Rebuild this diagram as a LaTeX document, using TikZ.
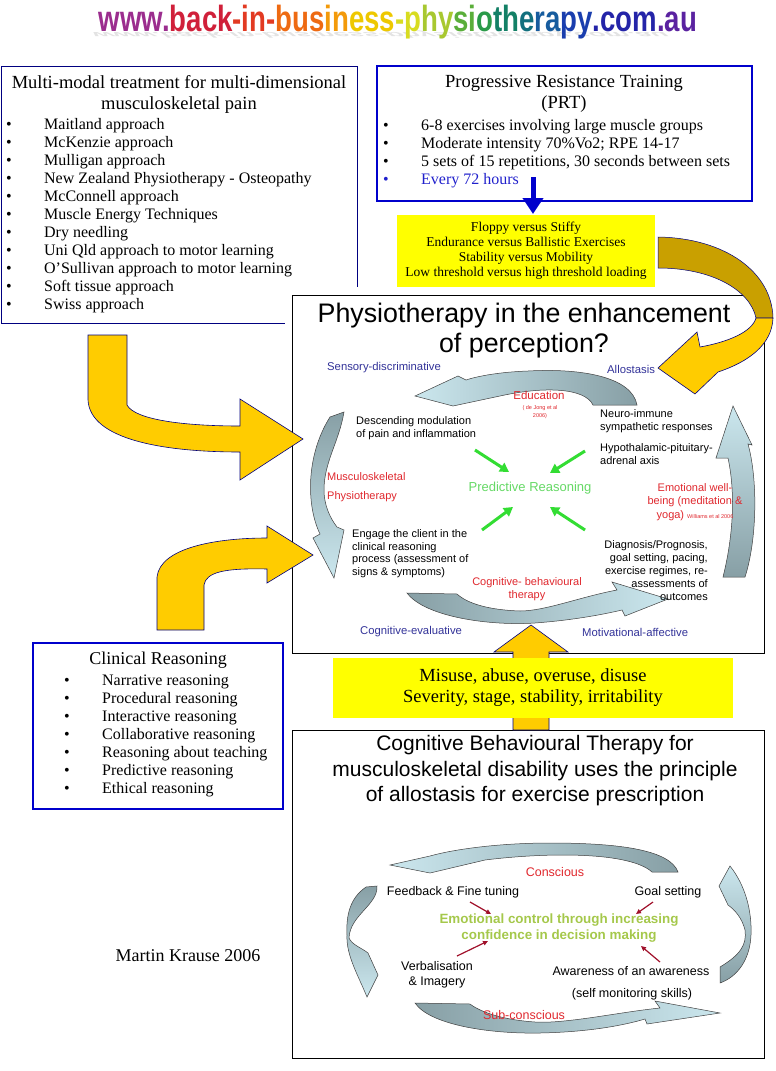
\documentclass[tikz,border=0pt]{standalone}
\usepackage{fontspec}
\setmainfont{Liberation Serif}
\setsansfont{Liberation Sans}
\usepackage{tikz}
\usetikzlibrary{arrows.meta}
\pgfdeclarelayer{edgelayer}
\pgfdeclarelayer{nodelayer}
\pgfsetlayers{edgelayer,nodelayer,main}
\definecolor{navy}{HTML}{000080}
\definecolor{boxblue}{HTML}{0000CC}
\definecolor{boxyellow}{HTML}{FFFF00}
\definecolor{arrowyellow}{HTML}{FFCC00}
\definecolor{golddark}{HTML}{C9A000}
\definecolor{cyclight}{HTML}{CBE7EE}
\definecolor{cycdark}{HTML}{879FA5}
\definecolor{labelblue}{HTML}{333399}
\definecolor{physred}{HTML}{E0282E}
\definecolor{predgreen}{HTML}{66D966}
\definecolor{emogreen}{HTML}{A5C84B}
\definecolor{pointergreen}{HTML}{33DD33}
\definecolor{tickred}{HTML}{A0102A}
\definecolor{itemblue}{HTML}{2020CC}
\tikzstyle{none}=[inner sep=0pt]
\tikzstyle{listitem}=[style=none, anchor=west, font=\fontsize{16}{18}\selectfont, text height=11pt, text depth=3pt]
\tikzstyle{heading}=[style=none, align=center, font=\fontsize{18.5}{21}\selectfont]
\tikzstyle{sans}=[style=none, font=\sffamily\fontsize{11}{12.5}\selectfont]
\tikzstyle{cbt text}=[style=none, align=center, font=\sffamily\fontsize{12.5}{15}\selectfont]
\tikzstyle{axis label}=[style=none, anchor=west, text=labelblue, font=\sffamily\fontsize{11.3}{12}\selectfont]
\tikzstyle{cycle arrow}=[draw=black!75, line width=0.5pt]
\tikzstyle{block arrow}=[draw=navy, line width=0.6pt, fill=arrowyellow]
\tikzstyle{greenpointer}=[draw=pointergreen, line width=3pt, -{Triangle[width=10pt,length=9pt]}]
\tikzstyle{redtick}=[draw=tickred, line width=1.2pt, -{Triangle[width=4.5pt,length=5pt]}]
\newcommand{\itemdot}{\makebox[38pt][l]{\textbullet}}

\begin{document}
\begin{tikzpicture}[x=1pt, y=-1pt]
	\useasboundingbox (0,0) rectangle (776,1071);
	\begin{pgfonlayer}{nodelayer}
		\node [style=none, text=gray!22, font=\sffamily\bfseries\fontsize{28}{30}\selectfont, xscale=0.95, yscale=-0.28, xslant=0.4] (0) at (380,35) {www.back-in-business-physiotherapy.com.au};
		\node [style=none, font=\sffamily\bfseries\fontsize{28}{30}\selectfont, xscale=0.985, yscale=1.3] (1) at (398,22) {{\color[HTML]{9B2D8E}www.}{\color[HTML]{D0203A}back}{\color[HTML]{E23A22}-in-}{\color[HTML]{EE6A12}bus}{\color[HTML]{F39A0A}in}{\color[HTML]{EEC800}ess}{\color[HTML]{D8DC20}-p}{\color[HTML]{A8C830}hy}{\color[HTML]{5AAE3A}si}{\color[HTML]{2A9A48}o}{\color[HTML]{138066}th}{\color[HTML]{12707E}e}{\color[HTML]{175C9E}ra}{\color[HTML]{1A3EAE}py}{\color[HTML]{2424A8}.com}{\color[HTML]{5A22A0}.au}};
		\node [style=heading] (2) at (179,94) {Multi-modal treatment for multi-dimensional\\musculoskeletal pain};
		\node [style=listitem] (3) at (6, 125) {\itemdot Maitland approach};
		\node [style=listitem] (4) at (6, 143) {\itemdot McKenzie approach};
		\node [style=listitem] (5) at (6, 161) {\itemdot Mulligan approach};
		\node [style=listitem] (6) at (6, 179) {\itemdot New Zealand Physiotherapy - Osteopathy};
		\node [style=listitem] (7) at (6, 197) {\itemdot McConnell approach};
		\node [style=listitem] (8) at (6, 215) {\itemdot Muscle Energy Techniques};
		\node [style=listitem] (9) at (6, 233) {\itemdot Dry needling};
		\node [style=listitem] (10) at (6, 251) {\itemdot Uni Qld approach to motor learning};
		\node [style=listitem] (11) at (6, 269) {\itemdot O’Sullivan approach to motor learning};
		\node [style=listitem] (12) at (6, 287) {\itemdot Soft tissue approach};
		\node [style=listitem] (13) at (6, 305) {\itemdot Swiss approach};
		\node [style=heading] (14) at (564,94) {Progressive Resistance Training\\(PRT)};
		\node [style=listitem] (15) at (383, 126) {\itemdot 6-8 exercises involving large muscle groups};
		\node [style=listitem] (16) at (383, 144) {\itemdot Moderate intensity 70\%Vo2; RPE 14-17};
		\node [style=listitem] (17) at (383, 162) {\itemdot 5 sets of 15 repetitions, 30 seconds between sets};
		\node [style=listitem, text=itemblue] (18) at (383, 180) {\itemdot Every 72 hours};
		\node [style=none] (19) at (533, 177) {};
		\node [style=none] (20) at (533, 214) {};
		\node [style=none, fill=boxyellow, minimum width=258pt, minimum height=72pt, align=center, font=\fontsize{13.5}{15}\selectfont] (21) at (526, 251) {Floppy versus Stiffy\\Endurance versus Ballistic Exercises\\Stability versus Mobility\\Low threshold versus high threshold loading};
		\node [style=none, align=center, font=\sffamily\fontsize{26.8}{30}\selectfont] (22) at (524, 331) {Physiotherapy in the enhancement\\of perception?};
		\node [style=axis label] (23) at (327, 368) {Sensory-discriminative};
		\node [style=axis label] (24) at (607, 369) {Allostasis};
		\node [style=sans, text=physred, font=\sffamily\fontsize{11.5}{13}\selectfont] (25) at (539, 395) {Education};
		\node [style=sans, text=physred, align=center, font=\sffamily\fontsize{5.5}{8}\selectfont] (26) at (540, 412) {( de Jong et al\\2006)};
		\node [style=sans, anchor=west, align=left] (27) at (356, 428) {Descending modulation\\of pain and inflammation};
		\node [style=sans, anchor=west, align=left, font=\sffamily\fontsize{11}{13}\selectfont] (28) at (600, 421.5) {Neuro-immune\\sympathetic responses};
		\node [style=sans, anchor=west, align=left] (29) at (600, 454) {Hypothalamic-pituitary-\\adrenal axis};
		\node [style=sans, anchor=west, align=left, text=physred, font=\sffamily\fontsize{11}{19}\selectfont] (30) at (327, 487.5) {Musculoskeletal\\Physiotherapy};
		\node [style=none, text=predgreen, font=\sffamily\fontsize{13}{14}\selectfont] (31) at (530, 488) {Predictive Reasoning};
		\node [style=sans, align=center, text=physred, font=\sffamily\fontsize{11}{13.5}\selectfont] (32) at (695, 502) {Emotional well-\\being (meditation \&\\yoga) {\fontsize{5.5}{6}\selectfont Williams et al 2006}};
		\node [style=sans, anchor=west, align=left] (33) at (352, 553.5) {Engage the client in the\\clinical reasoning\\process (assessment of\\signs \& symptoms)};
		\node [style=sans, anchor=east, align=right, font=\sffamily\fontsize{11}{13}\selectfont] (34) at (708, 571) {Diagnosis/Prognosis,\\goal setting, pacing,\\exercise regimes, re-\\assessments of\\outcomes};
		\node [style=sans, align=center, text=physred, font=\sffamily\fontsize{11}{13}\selectfont] (35) at (527, 589.5) {Cognitive- behavioural\\therapy};
		\node [style=axis label] (36) at (360, 632) {Cognitive-evaluative};
		\node [style=axis label] (37) at (582, 632) {Motivational-affective};
		\node [style=none] (38) at (475, 450) {};
		\node [style=none] (39) at (509, 472) {};
		\node [style=none] (40) at (585, 451) {};
		\node [style=none] (41) at (550, 473) {};
		\node [style=none] (42) at (482, 530) {};
		\node [style=none] (43) at (513, 507) {};
		\node [style=none] (44) at (585, 530) {};
		\node [style=none] (45) at (550, 507) {};
		\node [style=none, font=\fontsize{18}{20}\selectfont] (46) at (158, 660) {Clinical Reasoning};
		\node [style=listitem] (47) at (64, 681) {\itemdot Narrative reasoning};
		\node [style=listitem] (48) at (64, 699) {\itemdot Procedural reasoning};
		\node [style=listitem] (49) at (64, 717) {\itemdot Interactive reasoning};
		\node [style=listitem] (50) at (64, 735) {\itemdot Collaborative reasoning};
		\node [style=listitem] (51) at (64, 753) {\itemdot Reasoning about teaching};
		\node [style=listitem] (52) at (64, 771) {\itemdot Predictive reasoning};
		\node [style=listitem] (53) at (64, 789) {\itemdot Ethical reasoning};
		\node [style=none, fill=boxyellow, minimum width=400pt, minimum height=60pt, align=center, font=\fontsize{18.5}{21}\selectfont] (54) at (533, 688) {Misuse, abuse, overuse, disuse\\Severity, stage, stability, irritability};
		\node [style=none, align=center, font=\sffamily\fontsize{21}{25.5}\selectfont] (55) at (535, 771) {Cognitive Behavioural Therapy for\\musculoskeletal disability uses the principle\\of allostasis for exercise prescription};
		\node [style=cbt text, text=physred] (56) at (555, 872) {Conscious};
		\node [style=cbt text] (57) at (453, 892) {Feedback \& Fine tuning};
		\node [style=cbt text] (58) at (668, 892) {Goal setting};
		\node [style=cbt text, text=emogreen, font=\sffamily\bfseries\fontsize{13.4}{16}\selectfont] (59) at (559, 928) {Emotional control through increasing\\confidence in decision making};
		\node [style=cbt text] (60) at (437, 975) {Verbalisation\\\& Imagery};
		\node [style=cbt text] (61) at (631, 971) {Awareness of an awareness};
		\node [style=cbt text] (62) at (632, 994) {(self monitoring skills)};
		\node [style=cbt text, text=physred] (63) at (524, 1015) {Sub-conscious};
		\node [style=none] (64) at (470, 902) {};
		\node [style=none] (65) at (491, 914) {};
		\node [style=none] (66) at (653, 902) {};
		\node [style=none] (67) at (636, 914) {};
		\node [style=none] (68) at (457, 956) {};
		\node [style=none] (69) at (488, 941) {};
		\node [style=none] (70) at (660, 962) {};
		\node [style=none] (71) at (641, 946) {};
		\node [style=none, font=\fontsize{18}{20}\selectfont] (72) at (188, 956) {Martin Krause 2006};
	\end{pgfonlayer}
	\begin{pgfonlayer}{edgelayer}
		\draw [draw=navy, line width=0.8pt] (1,66) rectangle (357,323);
		\draw [draw=boxblue, line width=2.2pt] (377,66) rectangle (752,201);
		\fill [white] (285,287) rectangle (770,660);
		\draw [line width=0.8pt] (292,295) rectangle (764,653);
		\draw [line width=0.8pt] (292,730) rectangle (764,1058);
		\draw [draw=boxblue, line width=2.2pt] (33,643) rectangle (283,809);
		\draw [block arrow] (88,335) -- (127,335) -- (127,405) .. controls (135,420) and (185,426) .. (240,426) -- (240,399) -- (303,439) -- (240,480) -- (240,452) .. controls (165,452) and (90,440) .. (88,400) -- cycle;
		\draw [block arrow] (157,630) -- (157,577) .. controls (160,548) and (215,538) .. (267,538) -- (267,526) -- (313,555) -- (267,583) -- (267,569) .. controls (225,568) and (206,572) .. (204,585) -- (204,630) -- cycle;
		\draw [draw=navy, line width=0.5pt, fill=golddark] (658,237) .. controls (725,238) and (772,272) .. (773,318) -- (756,318) .. controls (750,290) and (712,268) .. (658,268) -- cycle;
		\draw [block arrow] (773,318) .. controls (772,345) and (748,362) .. (718,372) -- (695,394) -- (658,368) -- (697,332) -- (700,347) .. controls (728,342) and (752,332) .. (756,318) -- cycle;
		\draw [block arrow] (513,730) -- (513,652) -- (494,652) -- (531,625) -- (568,652) -- (549,652) -- (549,730) -- cycle;
		\draw [draw=boxblue, line width=5pt, -{Triangle[width=20pt,length=16pt]}] (19.center) to (20.center);
		\draw [cycle arrow, left color=cyclight, right color=cycdark] (415,396) -- (453,406) -- (500,396) .. controls (545,386) and (585,388) .. (593,405) -- (637,405) .. controls (632,377) and (582,368) .. (528,371) .. controls (500,372) and (478,376) .. (466,380) -- (458,376) -- cycle;
		\draw [cycle arrow, top color=cyclight, bottom color=cycdark] (733,406) -- (752,445) -- (748,444) .. controls (758,480) and (757,540) .. (745,577) -- (723,577) .. controls (731,545) and (737,500) .. (728,458) -- (716,458) -- cycle;
		\draw [cycle arrow, left color=cycdark, right color=cyclight] (407,593) .. controls (425,617) and (490,626) .. (535,623) .. controls (575,620) and (605,614) .. (622,610) -- (625,616) -- (668,599) -- (612,582) -- (617,590) .. controls (580,597) and (545,611) .. (520,611) .. controls (490,610) and (468,604) .. (457,594) -- cycle;
		\draw [cycle arrow, top color=cycdark, bottom color=cyclight] (330,417) -- (344,412) .. controls (339,442) and (324,462) .. (324,490) .. controls (324,505) and (330,518) .. (337,527) -- (344,530) -- (334,578) -- (313,538) -- (320,534) .. controls (306,505) and (306,455) .. cycle;
		\draw [cycle arrow, left color=cyclight, right color=cycdark] (390,865) -- (430,873) -- (485,860) .. controls (550,852) and (630,852) .. (652,872) -- (678,872) .. controls (670,850) and (620,843) .. (550,843) .. controls (500,843) and (455,849) .. (430,856) -- cycle;
		\draw [cycle arrow, top color=cyclight, bottom color=cycdark] (730,866) .. controls (745,885) and (752,910) .. (751,935) .. controls (750,960) and (737,977) .. (720,983) -- (720,967) .. controls (740,955) and (747,945) .. (745,930) .. controls (742,918) and (735,910) .. (728,905) -- (719,886) -- cycle;
		\draw [cycle arrow, left color=cycdark, right color=cyclight] (415,1003) .. controls (430,1025) and (490,1034) .. (540,1033) .. controls (590,1032) and (625,1025) .. (645,1019) -- (647,1024) -- (720,1013) -- (655,1001) -- (660,1008) .. controls (620,1012) and (565,1024) .. (535,1022) .. controls (505,1020) and (482,1013) .. (470,1004) -- cycle;
		\draw [cycle arrow, top color=cycdark, bottom color=cyclight] (366,887) -- (377,886) .. controls (378,905) and (350,915) .. (349,938) .. controls (352,945) and (362,948) .. (368,953) -- (378,975) -- (367,997) .. controls (358,975) and (346,955) .. (347,935) .. controls (346,915) and (350,898) .. cycle;
		\draw [greenpointer] (38.center) to (39.center);
		\draw [greenpointer] (40.center) to (41.center);
		\draw [greenpointer] (42.center) to (43.center);
		\draw [greenpointer] (44.center) to (45.center);
		\draw [redtick] (64.center) to (65.center);
		\draw [redtick] (66.center) to (67.center);
		\draw [redtick] (68.center) to (69.center);
		\draw [redtick] (70.center) to (71.center);
	\end{pgfonlayer}
\end{tikzpicture}
\end{document}
